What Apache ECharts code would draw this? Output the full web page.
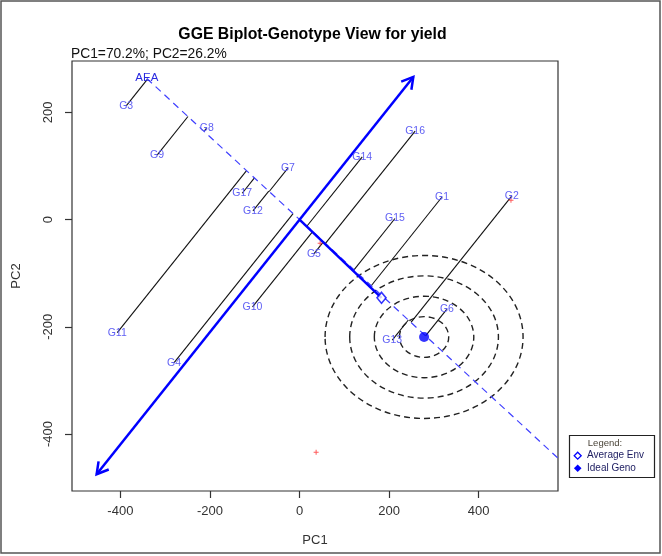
<!DOCTYPE html>
<html><head><meta charset="utf-8">
<script src="https://cdn.jsdelivr.net/npm/echarts@6/dist/echarts.min.js"></script>
<style>html,body{margin:0;padding:0;background:#fff}#c{width:662px;height:556px}</style>
</head><body><div id="c"></div>
<script>
// ---- data ----
const genotypes = ['G1','G2','G3','G4','G5','G6','G7','G8','G9','G10','G11','G12','G13','G14','G15','G16','G17'];
const genoPC1 = [318, 474, -387, -280, 32, 329, -26, -207, -318, -105, -407, -104, 207, 140, 213, 258, -128];
const genoPC2 = [42, 44, 212, -267, -64, -167, 96, 171, 120, -163, -211, 16, -225, 117, 2, 165, 49];
const aeaPoint = [-341, 263];            // AEA label end of the average-environment axis
const atcStart = [-453, -475];           // ATC arrow ends
const atcEnd = [254, 266];
const avgEnv = [183, -146];              // Average Env marker
const idealGeno = [278, -219];           // Ideal genotype
const ringRadiusPC1 = [55, 111, 166, 221];
const ringRadiusPC2 = [38, 76, 114, 152];
const envMarksPC1 = [37, 472, 46];
const envMarksPC2 = [-434, 36, -44];
const xTicks = [-400, -200, 0, 200, 400];
const yTicks = [-400, -200, 0, 200];
const titleText = 'GGE Biplot-Genotype View for yield';
const subText = 'PC1=70.2%; PC2=26.2%';

// ---- derived: foot of each genotype on the AEA line (along the ATC direction) ----
const det = aeaPoint[0] * atcEnd[1] - atcEnd[0] * aeaPoint[1];
const genoLineData = genoPC1.map((gx, i) => {
  const gy = genoPC2[i];
  const t = (gx * atcEnd[1] - atcEnd[0] * gy) / det;
  return [gx, gy, t * aeaPoint[0], t * aeaPoint[1]];
});

const FONT = "'Liberation Sans', Arial, sans-serif";
const BLUE = '#0000ff';

const chart = echarts.init(document.getElementById('c'), null, {renderer: 'canvas'});
chart.setOption({
  animation: false,
  backgroundColor: '#fff',
  grid: {left: 72, top: 61, width: 486, height: 430, show: true, borderColor: '#333', borderWidth: 1.2, backgroundColor: 'transparent'},
  xAxis: {
    type: 'value', min: -508, max: 577,
    axisLine: {show: false, onZero: false}, splitLine: {show: false},
    axisTick: {show: true, inside: false, length: 7, customValues: xTicks, lineStyle: {color: '#333', width: 1.2}},
    axisLabel: {customValues: xTicks, margin: 14, color: '#333', fontSize: 13, fontFamily: FONT},
    name: 'PC1', nameLocation: 'middle', nameGap: 43,
    nameTextStyle: {color: '#333', fontSize: 13, fontFamily: FONT}
  },
  yAxis: {
    type: 'value', min: -506.3, max: 295.7,
    axisLine: {show: false, onZero: false}, splitLine: {show: false},
    axisTick: {show: true, inside: false, length: 7, customValues: yTicks, lineStyle: {color: '#333', width: 1.2}},
    axisLabel: {customValues: yTicks, margin: 17, rotate: 90, color: '#333', fontSize: 13, fontFamily: FONT},
    name: 'PC2', nameLocation: 'middle', nameGap: 49,
    nameTextStyle: {color: '#333', fontSize: 13, fontFamily: FONT}
  },
  series: [
    { // genotype projection lines
      type: 'custom', data: genoLineData, z: 2,
      encode: {x: 0, y: 1},
      renderItem: (p, api) => {
        const a = api.coord([api.value(0), api.value(1)]);
        const b = api.coord([api.value(2), api.value(3)]);
        return {type: 'line', shape: {x1: a[0], y1: a[1], x2: b[0], y2: b[1]}, style: {stroke: '#111', lineWidth: 1.1}};
      }
    },
    { // concentric rings round the ideal genotype
      type: 'custom', z: 2,
      data: ringRadiusPC1.map((r, i) => [idealGeno[0], idealGeno[1], r, ringRadiusPC2[i]]),
      encode: {x: 0, y: 1},
      renderItem: (p, api) => {
        const c = api.coord([api.value(0), api.value(1)]);
        const s = api.size([api.value(2), api.value(3)]);
        return {type: 'ellipse', shape: {cx: c[0], cy: c[1], rx: s[0], ry: s[1]},
          style: {fill: 'none', stroke: '#222', lineWidth: 1.4, lineDash: [6, 4]}};
      }
    },
    { // AEA dashed axis
      type: 'line', z: 3, symbol: 'none', clip: true,
      data: [aeaPoint, [aeaPoint[0] * -3, aeaPoint[1] * -3]],
      lineStyle: {color: '#4040ff', width: 1.2, type: [7, 5]}
    },
    { // ATC double arrow
      type: 'custom', z: 4,
      data: [[atcStart[0], atcStart[1], atcEnd[0], atcEnd[1]]],
      encode: {x: 0, y: 1},
      renderItem: (p, api) => {
        const p0 = api.coord([api.value(0), api.value(1)]);
        const p1 = api.coord([api.value(2), api.value(3)]);
        const head = (tip, from) => {
          const ang = Math.atan2(tip[1] - from[1], tip[0] - from[0]);
          const L = 13, w = Math.PI / 6;
          return {type: 'polyline', shape: {points: [
            [tip[0] - L * Math.cos(ang - w), tip[1] - L * Math.sin(ang - w)], tip,
            [tip[0] - L * Math.cos(ang + w), tip[1] - L * Math.sin(ang + w)]]},
            style: {stroke: BLUE, lineWidth: 2.5, fill: 'none'}};
        };
        return {type: 'group', children: [
          {type: 'line', shape: {x1: p0[0], y1: p0[1], x2: p1[0], y2: p1[1]}, style: {stroke: BLUE, lineWidth: 2.5}},
          head(p0, p1), head(p1, p0)]};
      }
    },
    { // origin to average environment
      type: 'line', z: 4, symbol: 'none',
      data: [[0, 0], avgEnv],
      lineStyle: {color: BLUE, width: 2.5, type: 'solid'}
    },
    { // average env marker
      type: 'scatter', z: 5, symbol: 'diamond', symbolSize: [9, 11],
      data: [avgEnv],
      itemStyle: {color: '#fff', borderColor: BLUE, borderWidth: 1.6}
    },
    { // ideal genotype
      type: 'scatter', z: 5, symbol: 'circle', symbolSize: 10,
      data: [idealGeno], itemStyle: {color: BLUE}
    },
    { // environment marks (red)
      type: 'scatter', z: 5,
      symbol: 'path://M2,0H3V2H5V3H3V5H2V3H0V2H2Z', symbolSize: 5,
      data: envMarksPC1.map((x, i) => [x, envMarksPC2[i]]),
      itemStyle: {color: '#ff3030'}
    },
    { // genotype labels and AEA label
      type: 'custom', z: 6,
      data: genotypes.map((g, i) => [genoPC1[i], genoPC2[i], i]).concat([[aeaPoint[0], aeaPoint[1], -1]]),
      encode: {x: 0, y: 1},
      renderItem: (p, api) => {
        const c = api.coord([api.value(0), api.value(1)]);
        const idx = api.value(2);
        const isAEA = idx < 0;
        return {type: 'text', x: c[0], y: c[1] - (isAEA ? 1 : 0),
          style: {text: isAEA ? 'AEA' : genotypes[idx], fill: isAEA ? '#2a2ae0' : '#6060f4',
            font: (isAEA ? '11.5px ' : '10.5px ') + FONT, textAlign: 'center', textVerticalAlign: 'middle'}};
      }
    }
  ],
  graphic: [
    {type: 'rect', shape: {x: 1, y: 1, width: 659, height: 552}, style: {fill: 'none', stroke: '#555', lineWidth: 1.5}, z: 100},
    {type: 'text', x: 312.5, y: 35, style: {text: titleText, font: 'bold 15.8px ' + FONT, fill: '#000', textAlign: 'center', textVerticalAlign: 'middle'}},
    {type: 'text', x: 71, y: 54, style: {text: subText, font: '13.8px ' + FONT, fill: '#111', textAlign: 'left', textVerticalAlign: 'middle'}},
    {type: 'group', children: [
      {type: 'rect', shape: {x: 569.5, y: 435.5, width: 85, height: 42}, style: {fill: '#fff', stroke: '#222', lineWidth: 1.2}},
      {type: 'text', x: 605, y: 443.5, style: {text: 'Legend:', font: '9.5px ' + FONT, fill: '#4a4438', textAlign: 'center', textVerticalAlign: 'middle'}},
      {type: 'polygon', shape: {points: [[577.7, 452.2], [581.2, 455.7], [577.7, 459.2], [574.2, 455.7]]}, style: {fill: 'none', stroke: BLUE, lineWidth: 1.3}},
      {type: 'polygon', shape: {points: [[577.7, 464.5], [581.5, 468.3], [577.7, 472.1], [573.9, 468.3]]}, style: {fill: BLUE}},
      {type: 'text', x: 587, y: 455.7, style: {text: 'Average Env', font: '10px ' + FONT, fill: '#1c1c60', textAlign: 'left', textVerticalAlign: 'middle'}},
      {type: 'text', x: 587, y: 468.3, style: {text: 'Ideal Geno', font: '10px ' + FONT, fill: '#1c1c60', textAlign: 'left', textVerticalAlign: 'middle'}}
    ]}
  ]
});
</script>
</body></html>
